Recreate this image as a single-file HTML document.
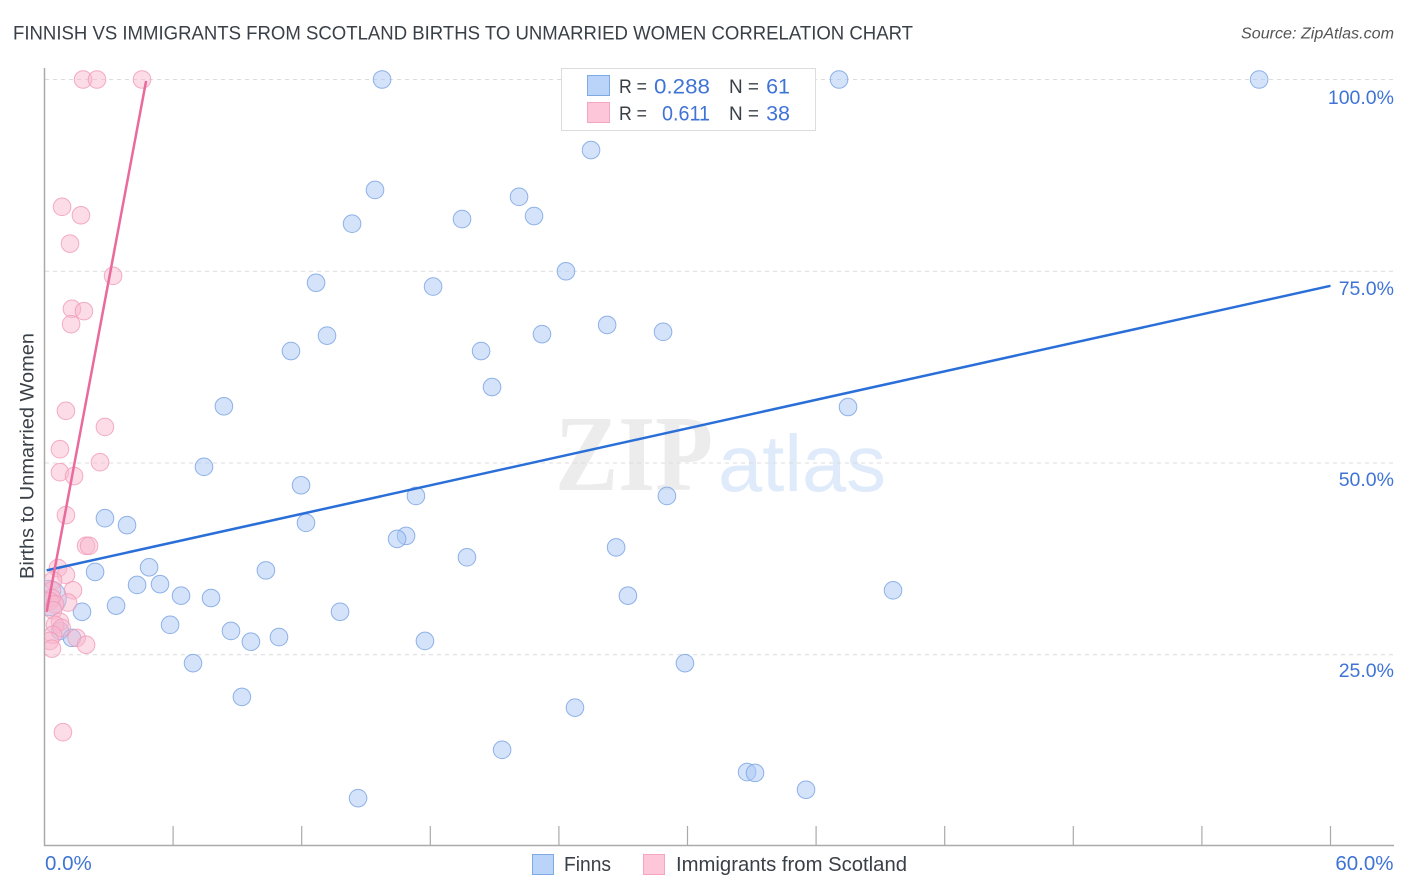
<!DOCTYPE html>
<html lang="en">
<head>
<meta charset="utf-8">
<title>Finnish vs Immigrants from Scotland Births to Unmarried Women Correlation Chart</title>
<style>
html,body{margin:0;padding:0;background:#fff;width:1406px;height:892px;overflow:hidden}
svg{display:block}
text{font-family:"Liberation Sans",Arial,sans-serif}
</style>
</head>
<body>
<svg id="chart" xmlns="http://www.w3.org/2000/svg" width="1406" height="892" viewBox="0 0 1406 892">
  <defs>
    <clipPath id="plot-clip"><rect x="45" y="60" width="1361" height="786"/></clipPath>
  </defs>
  <rect x="0" y="0" width="1406" height="892" fill="#ffffff"/>

  <g>
    <text x="555" y="490" font-size="108" font-weight="bold" textLength="158" lengthAdjust="spacingAndGlyphs" fill="#ececec" style="font-family:'Liberation Serif',serif">ZIP</text>
    <text x="718" y="491" font-size="80" textLength="168" lengthAdjust="spacingAndGlyphs" fill="#dfeafa">atlas</text>
  </g>

  <g id="grid"></g>
  <g id="axes"></g>
  <g id="finns-points" clip-path="url(#plot-clip)"></g>
  <g id="scotland-points" clip-path="url(#plot-clip)"></g>
  <g id="trends"></g>
  <g id="labels"></g>

  <text x="13" y="39.5" font-size="19.5" textLength="900" lengthAdjust="spacingAndGlyphs" fill="#3a4047">FINNISH VS IMMIGRANTS FROM SCOTLAND BIRTHS TO UNMARRIED WOMEN CORRELATION CHART</text>
  <text x="1241" y="38.5" font-size="15.5" textLength="153" lengthAdjust="spacingAndGlyphs" font-style="italic" fill="#555">Source: ZipAtlas.com</text>
  <text transform="translate(33.5 579) rotate(-90)" x="0" y="0" font-size="19" textLength="246" lengthAdjust="spacingAndGlyphs" fill="#3a4047">Births to Unmarried Women</text>

  <g>
    <rect x="561.5" y="68.5" width="254" height="62" fill="#ffffff" stroke="#dcdcdc" stroke-width="1"/>
    <rect x="587.5" y="75.5" width="22" height="20" fill="#b9d4f8" stroke="#7ea9e2" stroke-width="1"/>
    <text x="619" y="93" font-size="19" textLength="28" lengthAdjust="spacingAndGlyphs" fill="#3a4047">R =</text>
    <text x="654" y="93.5" font-size="21.5" textLength="56" lengthAdjust="spacingAndGlyphs" fill="#3f74d6">0.288</text>
    <text x="729" y="93" font-size="19" textLength="30" lengthAdjust="spacingAndGlyphs" fill="#3a4047">N =</text>
    <text x="790" y="93.5" font-size="21.5" text-anchor="end" fill="#3f74d6">61</text>
    <rect x="587.5" y="102.5" width="22" height="20" fill="#fdc6d9" stroke="#f4a6c0" stroke-width="1"/>
    <text x="619" y="120" font-size="19" textLength="28" lengthAdjust="spacingAndGlyphs" fill="#3a4047">R =</text>
    <text x="662" y="120.5" font-size="21.5" textLength="48" lengthAdjust="spacingAndGlyphs" fill="#3f74d6">0.611</text>
    <text x="729" y="120" font-size="19" textLength="30" lengthAdjust="spacingAndGlyphs" fill="#3a4047">N =</text>
    <text x="790" y="120.5" font-size="21.5" text-anchor="end" fill="#3f74d6">38</text>
  </g>

  <g>
    <g>
      <rect x="532.5" y="854.5" width="21" height="20" fill="#b9d4f8" stroke="#7ea9e2" stroke-width="1"/>
      <text x="564" y="871" font-size="20" textLength="47" lengthAdjust="spacingAndGlyphs" fill="#3a4047">Finns</text>
    </g>
    <g>
      <rect x="643.5" y="854.5" width="21" height="20" fill="#fdc6d9" stroke="#f4a6c0" stroke-width="1"/>
      <text x="676" y="871" font-size="20" textLength="231" lengthAdjust="spacingAndGlyphs" fill="#3a4047">Immigrants from Scotland</text>
    </g>
  </g>
</svg>

<script>
// Axis ticks
const yTickValues = [25, 50, 75, 100];
const yTickLabels = ["25.0%", "50.0%", "75.0%", "100.0%"];
const xTickValues = [0, 6, 12, 18, 24, 30, 36, 42, 48, 54, 60];
const xEndValues = [0, 60];
const xEndLabels = ["0.0%", "60.0%"];

// Finns series: x %, y %
const finnsX = [15.75,37.07,56.67,25.5,15.42,22.14,19.48,22.84,14.35,24.33,12.67,18.13,26.25,13.18,23.21,28.86,11.5,20.37,20.88,8.37,37.49,7.44,11.97,17.33,29.04,2.82,3.85,12.2,16.87,16.45,19.71,26.67,10.33,4.88,2.36,4.32,5.39,39.59,6.37,7.77,27.22,3.34,1.75,13.79,0.2,5.86,8.7,0.72,1.28,9.63,10.94,17.75,6.93,29.88,9.21,24.75,21.35,32.78,33.15,35.53,14.63];
const finnsY = [100,100,100,90.8,85.6,84.7,81.8,82.2,81.2,75,73.5,73,68,66.6,66.8,67.1,64.6,64.6,59.9,57.4,57.3,49.5,47.1,45.7,45.7,42.8,41.9,42.2,40.5,40.1,37.7,39,36,36.4,35.8,34.1,34.2,33.4,32.7,32.4,32.7,31.4,30.6,30.6,32.4,28.9,28.1,28.1,27.2,26.7,27.3,26.8,23.9,23.9,19.5,18.1,12.6,9.7,9.6,7.4,6.3];
const finnsWeight = [1,1,1,1,1,1,1,1,1,1,1,1,1,1,1,1,1,1,1,1,1,1,1,1,1,1,1,1,1,1,1,1,1,1,1,1,1,1,1,1,1,1,1,1,4,1,1,1,1,1,1,1,1,1,1,1,1,1,1,1,1];

// Immigrants from Scotland series: x %, y %
const scotlandX = [1.8,2.45,4.55,0.82,1.7,1.19,3.2,1.28,1.84,1.24,1.0,2.82,0.72,2.59,0.72,1.38,1.0,1.94,2.08,0.63,1.0,0.4,1.33,0.35,0.35,0.25,1.1,0.49,0.4,0.72,0.49,0.8,0.4,1.5,1.94,0.25,0.35,0.86];
const scotlandY = [100,100,100,83.4,82.3,78.6,74.4,70.1,69.8,68.1,56.8,54.7,51.8,50.1,48.8,48.3,43.2,39.2,39.2,36.3,35.4,34.7,33.4,33.4,32.4,32,31.8,31.6,30.8,29.3,28.9,28.5,27.6,27.2,26.3,26.8,25.8,14.9];

// Trend line end points: x %, y %
const finnsTrendX = [0.1, 60];
const finnsTrendY = [36.0, 73.1];
const scotlandTrendX = [0.1, 4.74];
const scotlandTrendY = [30.6, 99.8];

const NS = "http://www.w3.org/2000/svg";
function xScale(v) { return 44.5 + v * (1286 / 60); }
function yScale(v) { return 846.5 - v * 7.67; }
function rScale(w) { return 8.8 * Math.sqrt(w); }
function make(tag, attrs, parent) {
  const el = document.createElementNS(NS, tag);
  for (const k in attrs) el.setAttribute(k, attrs[k]);
  parent.appendChild(el);
  return el;
}

const grid = document.getElementById("grid");
const axes = document.getElementById("axes");
const labels = document.getElementById("labels");
const trends = document.getElementById("trends");

yTickValues.forEach(function (v, i) {
  const line = make("line", {x1: 45, x2: 1394, y1: yScale(v), y2: yScale(v), stroke: "#dcdcdc", "stroke-width": 1, "stroke-dasharray": "4 4"}, grid);
  
  
  const t = make("text", {x: 1394, y: yScale(v) + 24.5 - (100 - v) * 0.03, "font-size": 19.5, "text-anchor": "end", fill: "#3f74d6"}, labels);
  t.textContent = yTickLabels[i];
  
  
});

const yAxisLine = make("line", {x1: 44.5, x2: 44.5, y1: 68, y2: 846, stroke: "#aaaaaa", "stroke-width": 1.5}, axes);


const xAxisLine = make("line", {x1: 44, x2: 1394, y1: 845.5, y2: 845.5, stroke: "#aaaaaa", "stroke-width": 1.5}, axes);



xTickValues.forEach(function (v) {
  if (v === 0) return;
  const tick = make("line", {x1: xScale(v), x2: xScale(v), y1: 826, y2: 846, stroke: "#aaaaaa", "stroke-width": 1.2}, axes);
  
  
});

xEndValues.forEach(function (v, i) {
  const t = make("text", {x: i === 0 ? xScale(v) + 0.5 : xScale(v) + 63, y: 870, "font-size": 20.5, "text-anchor": i === 0 ? "start" : "end", fill: "#3f74d6"}, labels);
  t.textContent = xEndLabels[i];
  
  
});

const finnsGroup = document.getElementById("finns-points");
finnsX.forEach(function (x, i) {
  const c = make("circle", {cx: xScale(x), cy: yScale(finnsY[i]), r: rScale(finnsWeight[i]), fill: "#a9c8f5", "fill-opacity": 0.5, stroke: "#7ea6e4", "stroke-opacity": 0.85, "stroke-width": 1}, finnsGroup);
  
  
});

const scotlandGroup = document.getElementById("scotland-points");
scotlandX.forEach(function (x, i) {
  const c = make("circle", {cx: xScale(x), cy: yScale(scotlandY[i]), r: rScale(1), fill: "#f9b6cc", "fill-opacity": 0.48, stroke: "#f09ab8", "stroke-opacity": 0.8, "stroke-width": 1}, scotlandGroup);
  
  
});

const finnsTrend = make("line", {x1: xScale(finnsTrendX[0]), y1: yScale(finnsTrendY[0]), x2: xScale(finnsTrendX[1]), y2: yScale(finnsTrendY[1]), stroke: "#2a6fd8", "stroke-width": 2.5}, trends);


const scotlandTrend = make("line", {x1: xScale(scotlandTrendX[0]), y1: yScale(scotlandTrendY[0]), x2: xScale(scotlandTrendX[1]), y2: yScale(scotlandTrendY[1]), stroke: "#ea6a9b", "stroke-width": 2.5}, trends);


</script>
</body>
</html>
